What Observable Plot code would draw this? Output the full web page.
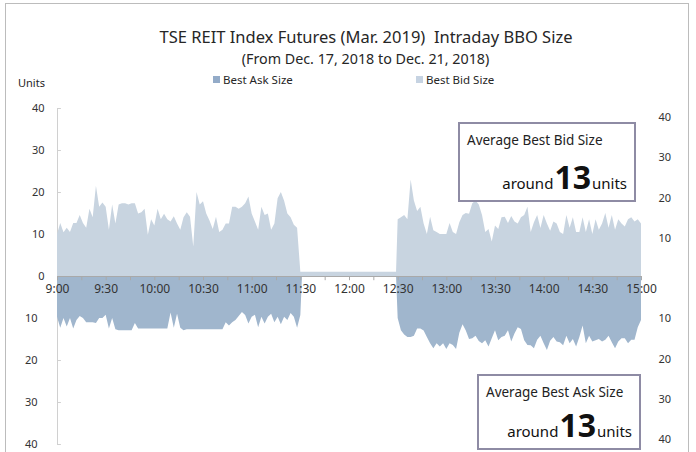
<!DOCTYPE html>
<html><head><meta charset="utf-8">
<script src="https://cdn.jsdelivr.net/npm/d3@7"></script>
<script src="https://cdn.jsdelivr.net/npm/@observablehq/plot@0.6"></script>
<style>
body{margin:0;background:#fff;font-family:"Noto Sans",sans-serif;}
#wrap{position:relative;width:696px;height:452px;overflow:hidden;background:#fff;}
#frame{position:absolute;left:5px;top:3px;width:684px;height:470px;border:1px solid #bcbcbc;box-sizing:border-box;}
.t{position:absolute;white-space:nowrap;color:#262626;line-height:1;}
.sw{position:absolute;width:7px;height:7px;}
.box{position:absolute;border:2px solid #8e8ba4;box-sizing:border-box;background:#fff;}
.box .h{position:absolute;left:7px;top:10px;font-size:13.5px;color:#222;line-height:1;white-space:nowrap;}
.box .v{position:absolute;right:7px;bottom:7px;display:flex;align-items:baseline;color:#111;white-space:nowrap;line-height:1;}
.box .v .s{font-size:15px;}
.box .v .b{font-size:32px;font-weight:bold;margin:0 1px;}
svg.ov{position:absolute;left:0;top:0;}
</style></head>
<body>
<div id="wrap">
  <div id="frame"></div>
  <div class="t" id="title" style="left:0;width:732px;text-align:center;top:29px;font-size:16.5px;">TSE REIT Index Futures (Mar. 2019)&nbsp; Intraday BBO Size</div>
  <div class="t" id="sub" style="left:0;width:731px;text-align:center;top:52px;font-size:14.3px;">(From Dec. 17, 2018 to Dec. 21, 2018)</div>
  <div class="sw" style="left:213px;top:76px;background:#93abc8;"></div>
  <div class="t" style="left:223px;top:74px;font-size:11.5px;">Best Ask Size</div>
  <div class="sw" style="left:416px;top:76px;background:#c6d3e2;"></div>
  <div class="t" style="left:426px;top:74px;font-size:11.5px;">Best Bid Size</div>
  <div class="t" style="left:18px;top:77px;font-size:11px;">Units</div>
  <div id="chart"></div>
  <div class="box" style="left:458px;top:122px;width:178px;height:80px;">
    <div class="h">Average Best Bid Size</div>
    <div class="v"><span class="s">around</span><span class="b">13</span><span class="s">units</span></div>
  </div>
  <div class="box" style="left:477px;top:374px;width:164px;height:76px;">
    <div class="h">Average Best Ask Size</div>
    <div class="v"><span class="s">around</span><span class="b">13</span><span class="s">units</span></div>
  </div>
</div>
<script>
// ---- data (units; 2-minute sampling) ----
const morningMinutes = d3.range(0, 151, 2);      // 9:00 .. 11:30
const afternoonMinutes = d3.range(210, 361, 2);  // 12:30 .. 15:00
const lunchMinutes = [151, 209];
const lunchBid = [1, 1];
const lunchAsk = [0, 0];

const morningBid = [
  10, 12.6, 10.4, 11.5, 10.5, 12.6, 12.6, 14.5, 12.6, 11.5,
  16, 14, 21.5, 16.5, 17.5, 16.5, 11, 17, 12.5, 17,
  17.3, 17.3, 17, 17.3, 17.3, 14.9, 15.2, 16, 9.8, 13.5,
  12, 16, 13.5, 14.8, 13.5, 13, 14.2, 12.5, 11, 14,
  15.2, 14.1, 7, 20, 17, 17.8, 14.9, 13.2, 11.2, 14.1,
  10.5, 11, 12.5, 12.5, 16.5, 16.5, 16, 16.5, 17.3, 18.9,
  14.9, 13, 11, 16.5, 14.5, 14.9, 11, 12.5, 18.5, 20,
  17.9, 14.9, 14, 12.2, 11.5, 1
];
const morningAsk = [
  9.7, 12.3, 10, 12, 10, 12.5, 10.5, 9.5, 10, 11,
  11, 11, 11.2, 10, 10, 9.2, 12.5, 10, 12.7, 12.9,
  12.9, 12.9, 12.9, 12.9, 11.2, 12.5, 12.5, 12.5, 12.5, 12.5,
  12.5, 12.5, 12.5, 12.5, 12.5, 8.7, 12.3, 9, 12.3, 12.9,
  12.7, 12.7, 12.7, 12.7, 12.7, 12.7, 12.7, 12.7, 12.7, 12.7,
  12.7, 12.7, 11, 11.8, 11, 10.5, 9.5, 8.6, 9.3, 11.3,
  9.7, 9.2, 12.2, 9.7, 11.3, 9.7, 9, 11, 9.7, 11.5,
  9.7, 10.5, 8.8, 9.7, 12.3, 9.3
];
const afternoonBid = [
  13.5, 14, 14.5, 13.5, 23, 18, 15.5, 16.5, 12.5, 10,
  14.1, 10.9, 10.5, 10, 10, 10, 12.6, 10.5, 10, 12.8,
  14.5, 15, 14.8, 17.3, 18, 17, 14.5, 10.5, 11.2, 8.2,
  12, 11.2, 14, 14.1, 12.6, 14.3, 13, 12.5, 14, 14.5,
  16.5, 10.5, 12.8, 14.5, 11.4, 14.5, 12.5, 10.8, 13, 12.5,
  10.5, 10, 14.5, 11.5, 14, 10.5, 10.5, 14, 10.5, 13.5,
  10, 13.5, 11, 12.5, 15, 11.5, 14.5, 11, 13.5, 12.5,
  11.8, 13.5, 14, 13, 13.5, 12.5
];
const afternoonAsk = [
  10, 12.9, 13.9, 14.5, 14.5, 14.2, 12.5, 12.5, 13, 14.5,
  16, 17.2, 16, 16.8, 16, 17.4, 16, 16.4, 17.4, 13.5,
  11.5, 13, 15, 14.8, 14.2, 15.5, 16, 15.3, 16.8, 14.8,
  12.9, 15.3, 14.5, 14.2, 12.9, 15.6, 13.7, 12.2, 12.6, 15.3,
  16.4, 16.5, 17.2, 15.2, 14.2, 16, 17.6, 15.4, 14.5, 15.6,
  15.8, 16.5, 14.2, 16, 15, 16.8, 14.5, 11.8, 16, 14.2,
  15.6, 15.3, 15, 15.6, 15.2, 14.2, 15.8, 17.2, 15.6, 14.8,
  14.8, 16, 15.2, 15.2, 12.2, 10.5
];

const xLabelMinutes = d3.range(0, 361, 30);
const xTickLabels = ["9:00","9:30","10:00","10:30","11:00","11:30","12:00","12:30","13:00","13:30","14:00","14:30","15:00"];
const xTickMinutes = d3.range(0, 361, 15);
const leftUpperTicks = [0, 10, 20, 30, 40];
const leftLowerTicks = [-10, -20, -30, -40];
const leftAllTicks = [-40, -30, -20, -10, 0, 10, 20, 30, 40];
const rightTicks = [-40, -30, -20, -10, 10, 20, 30, 40];

const bidColor = "#c8d4e0";
const askColor = "#a0b6cd";
const axisGrey = "#a9a9a9";

const minutes = [...morningMinutes, ...lunchMinutes, ...afternoonMinutes];
const bid = [...morningBid, ...lunchBid, ...afternoonBid];
const ask = [...morningAsk, ...lunchAsk, ...afternoonAsk];
const rows = minutes.map((t, i) => ({t, bid: bid[i], ask: ask[i]}));

const W = 696, H = 452;
const main = Plot.plot({
  width: W, height: H,
  marginLeft: 57, marginRight: 55, marginTop: 108, marginBottom: 8,
  x: {domain: [0, 360], axis: null, label: null},
  y: {domain: [-40, 40], axis: null, label: null},
  style: {fontFamily: "Noto Sans", fontSize: "11px", color: "#333", background: "transparent"},
  marks: [
    Plot.ruleX([0], {y1: -40, y2: 40, stroke: "#d0d0d0"}),
    Plot.ruleY(leftAllTicks, {x1: 0, x2: 2.4, stroke: "#d0d0d0"}),
    Plot.areaY(rows, {x: "t", y: "bid", fill: bidColor}),
    Plot.areaY(rows, {x: "t", y: d => -d.ask, fill: askColor}),
    Plot.ruleY([0], {x1: 0, x2: 360, stroke: axisGrey}),
    Plot.ruleX(xTickMinutes, {y1: 0, y2: -1, stroke: axisGrey}),
    Plot.text(xLabelMinutes, {x: d => d, y: 0, dy: 13, text: (d, i) => xTickLabels[i], fontSize: 12, fill: "#333"}),
    Plot.axisY(leftUpperTicks, {anchor: "left", label: null, tickSize: 0, tickPadding: 13, tickFormat: d => Math.abs(d), fill: "#333"}),
    Plot.axisY(leftLowerTicks, {anchor: "left", label: null, tickSize: 0, tickPadding: 20, tickFormat: d => Math.abs(d), fill: "#333"})
  ]
});
main.classList.add("ov");

const right = Plot.plot({
  width: W, height: H,
  marginLeft: 57, marginRight: 46, marginTop: 117, marginBottom: 13,
  x: {domain: [0, 1], axis: null, label: null},
  y: {domain: [-40, 40], axis: null, label: null},
  style: {fontFamily: "Noto Sans", fontSize: "11px", color: "#333", background: "transparent"},
  marks: [
    Plot.axisY(rightTicks, {anchor: "right", label: null, tickSize: 0, tickPadding: 8, tickFormat: d => Math.abs(d), fill: "#333"})
  ]
});
right.classList.add("ov");

const chart = document.getElementById("chart");
chart.appendChild(main);
chart.appendChild(right);
</script>
</body></html>
